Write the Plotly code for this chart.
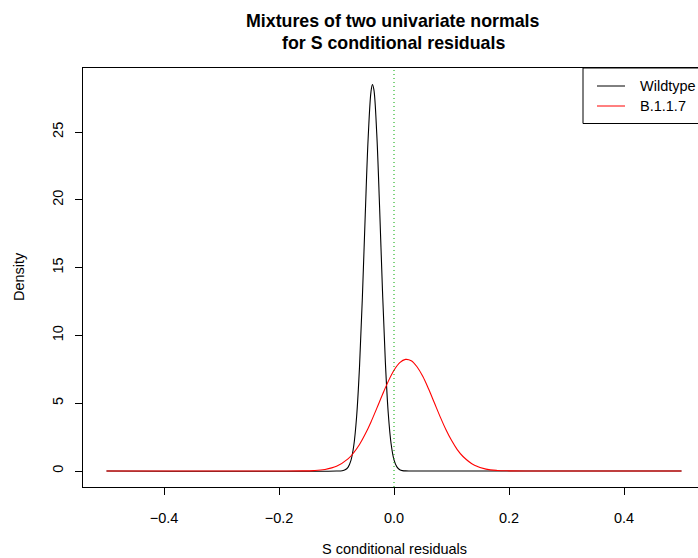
import plotly.graph_objects as go

# ---- data ----
wild_x = [-0.5, -0.1, -0.09, -0.085, -0.08, -0.075, -0.07, -0.065, -0.06, -0.055, -0.05,
          -0.045, -0.04, -0.0375, -0.035, -0.03, -0.025, -0.02, -0.015, -0.01, -0.005,
          0.0, 0.005, 0.01, 0.015, 0.02, 0.03, 0.5]
wild_y = [0, 0.001, 0.024, 0.086, 0.27, 0.76, 1.86, 4.02, 7.66, 12.82, 18.89,
          24.5, 27.98, 28.5, 28.12, 24.88, 19.37, 13.28, 8.01, 4.26, 1.99,
          0.82, 0.30, 0.095, 0.027, 0.007, 0, 0]

b117_x = [-0.5, -0.2, -0.16, -0.14, -0.12, -0.1, -0.08, -0.07, -0.06, -0.05, -0.04, -0.03,
          -0.02, -0.01, 0.0, 0.01, 0.02, 0.03, 0.04, 0.05, 0.06, 0.07, 0.08, 0.09, 0.1,
          0.11, 0.12, 0.14, 0.16, 0.18, 0.2, 0.24, 0.5]
b117_y = [0, 0.0002, 0.007, 0.030, 0.111, 0.342, 0.89, 1.35, 1.95, 2.72, 3.62, 4.62,
          5.64, 6.61, 7.43, 7.99, 8.23, 8.13, 7.69, 6.98, 6.06, 5.05, 4.03, 3.08, 2.26,
          1.58, 1.07, 0.42, 0.14, 0.040, 0.010, 0, 0]

x_tickvals = [-0.4, -0.2, 0.0, 0.2, 0.4]
x_ticktext = ["\u22120.4", "\u22120.2", "0.0", "0.2", "0.4"]
y_tickvals = [0, 5, 10, 15, 20, 25]
y_ticktext = ["0", "5", "10", "15", "20", "25"]

series_names = ["Wildtype", "B.1.1.7"]
series_colors = ["black", "red"]

title_lines = ["Mixtures of two univariate normals", "for S conditional residuals"]
x_title = "S conditional residuals"
y_title = "Density"

# ---- layout geometry (pixels) ----
W, H = 698, 558
L, T, R_, B = 83, 68, 0, 71
PW = W - L - R_
PH = H - T - B


def px_x(px):
    return (px - L) / PW


def px_y(py):
    return (H - B - py) / PH


FONT = "Liberation Sans, Arial, Helvetica, sans-serif"

fig = go.Figure()
fig.add_trace(go.Scatter(x=wild_x, y=wild_y, mode="lines", name=series_names[0],
                         line=dict(color=series_colors[0], width=1.1, shape="spline"),
                         showlegend=False))
fig.add_trace(go.Scatter(x=b117_x, y=b117_y, mode="lines", name=series_names[1],
                         line=dict(color=series_colors[1], width=1.1, shape="spline"),
                         showlegend=False))

shapes = []
# green dotted vertical reference line at 0
shapes.append(dict(type="line", xref="x", yref="paper", x0=0, x1=0, y0=0, y1=1,
                   line=dict(color="#00A800", width=1, dash="1px,3px")))
# legend box
shapes.append(dict(type="rect", xref="paper", yref="paper",
                   x0=px_x(583), x1=px_x(720), y0=px_y(123.5), y1=px_y(68),
                   line=dict(color="black", width=1), fillcolor="white"))
annotations = []
for i, (nm, col) in enumerate(zip(series_names, series_colors)):
    yy = 86 + 20 * i
    shapes.append(dict(type="line", xref="paper", yref="paper",
                       x0=px_x(597), x1=px_x(625), y0=px_y(yy), y1=px_y(yy),
                       line=dict(color=col, width=1)))
    annotations.append(dict(text=nm, xref="paper", yref="paper", x=px_x(638), y=px_y(yy),
                            xanchor="left", yanchor="middle", showarrow=False,
                            font=dict(family=FONT, size=14.5, color="black")))

# title lines
for txt, yy in zip(title_lines, [20.5, 43]):
    annotations.append(dict(text="<b>" + txt + "</b>", xref="paper", yref="paper",
                            x=px_x(393), y=px_y(yy), xanchor="center", yanchor="middle",
                            showarrow=False, font=dict(family=FONT, size=17.8, color="black")))
# axis titles
annotations.append(dict(text=x_title, xref="paper", yref="paper", x=px_x(394), y=px_y(549),
                        xanchor="center", yanchor="middle", showarrow=False,
                        font=dict(family=FONT, size=14.5, color="black")))
annotations.append(dict(text=y_title, xref="paper", yref="paper", x=px_x(19), y=px_y(277),
                        xanchor="center", yanchor="middle", showarrow=False, textangle=-90,
                        font=dict(family=FONT, size=14.5, color="black")))

fig.update_layout(
    width=W, height=H,
    margin=dict(l=L, r=R_, t=T, b=B, pad=0),
    paper_bgcolor="white", plot_bgcolor="white",
    font=dict(family=FONT, size=14.5, color="black"),
    shapes=shapes, annotations=annotations,
    showlegend=False,
)
fig.update_xaxes(range=[(L - 394) / 575, (W - R_ - 394) / 575],
                 tickvals=x_tickvals, ticktext=x_ticktext,
                 ticks="outside", ticklen=7, tickwidth=1, tickcolor="black",
                 showline=True, linecolor="black", linewidth=1, mirror=True,
                 showgrid=False, zeroline=False, ticklabelstandoff=11)
fig.update_yaxes(range=[-(H - B - 471) / 13.56, (471 - T) / 13.56],
                 tickvals=y_tickvals, ticktext=y_ticktext, tickangle=-90,
                 ticks="outside", ticklen=7, tickwidth=1, tickcolor="black",
                 showline=True, linecolor="black", linewidth=1, mirror=False,
                 showgrid=False, zeroline=False, ticklabelstandoff=6)

fig.write_html("out.html",
               config={"displayModeBar": False},
               post_script="document.body.style.margin='0';document.body.style.overflow='hidden';")
